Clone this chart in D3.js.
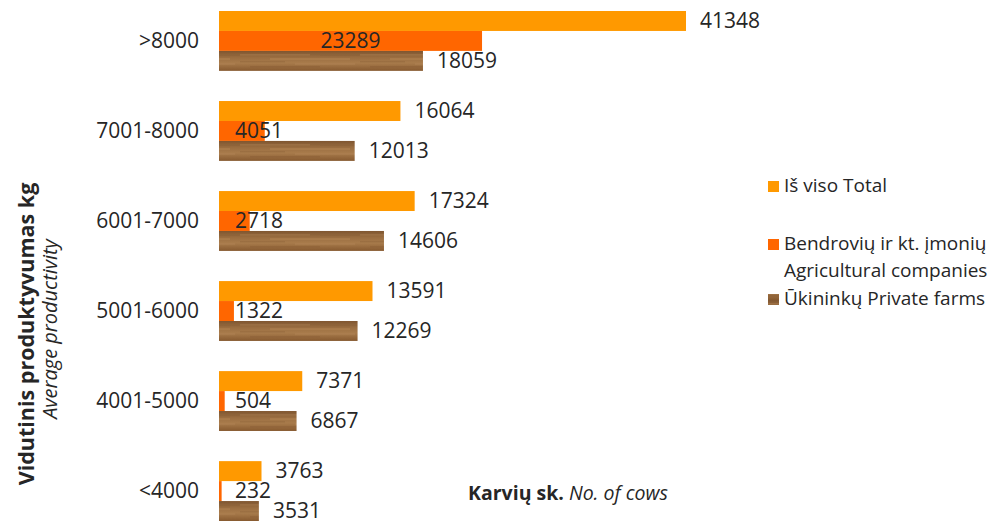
<!DOCTYPE html>
<html>
<head>
<meta charset="utf-8">
<script src="https://cdn.jsdelivr.net/npm/d3@7"></script>
<style>
  html, body { margin: 0; padding: 0; background: #fff; }
  svg { display: block; font-family: "Open Sans", "Noto Sans", sans-serif; }
</style>
</head>
<body>
<svg id="chart" width="998" height="527"></svg>
<script>
// ---- data ----
const categories = [">8000", "7001-8000", "6001-7000", "5001-6000", "4001-5000", "<4000"];
const seriesNames = ["Iš viso Total", "Bendrovių ir kt. įmonių Agricultural companies", "Ūkininkų Private farms"];
const totalValues = [41348, 16064, 17324, 13591, 7371, 3763];
const companyValues = [23289, 4051, 2718, 1322, 504, 232];
const farmValues = [18059, 12013, 14606, 12269, 6867, 3531];
const legendLines = [["Iš viso Total"], ["Bendrovių ir kt. įmonių", "Agricultural companies"], ["Ūkininkų Private farms"]];
const yTitle = "Vidutinis produktyvumas kg";
const ySubtitle = "Average productivity";
const xTitleBold = "Karvių sk.";
const xTitleItalic = "No. of cows";

const seriesValues = [totalValues, companyValues, farmValues];
const svg = d3.select("#chart");

// wood texture pattern for the farms series
const defs = svg.append("defs");
const grad = defs.append("linearGradient").attr("id", "woodGrad")
  .attr("x1", 0).attr("y1", 0).attr("x2", 0).attr("y2", 1);
[["0%", "#7f5630"], ["35%", "#9c6f42"], ["60%", "#a87b4b"], ["100%", "#86592f"]]
  .forEach(s => grad.append("stop").attr("offset", s[0]).attr("stop-color", s[1]));
const pat = defs.append("pattern").attr("id", "wood")
  .attr("patternUnits", "userSpaceOnUse").attr("width", 120).attr("height", 20);
pat.append("rect").attr("width", 120).attr("height", 20).attr("fill", "url(#woodGrad)");
const streaks = [
  [0, 3, 70, 1.5, "#b58758", 0.35], [30, 7, 80, 2, "#c0915e", 0.3], [0, 10, 45, 1.5, "#7c532d", 0.25],
  [55, 12, 60, 2, "#b88a59", 0.3], [10, 15, 70, 1.5, "#7a512c", 0.25], [80, 4, 40, 1, "#8a5e35", 0.3]
];
streaks.forEach(s => pat.append("rect").attr("x", s[0]).attr("y", s[1]).attr("width", s[2])
  .attr("height", s[3]).attr("fill", s[4]).attr("opacity", s[5]));

const colors = ["#ff9900", "#ff6600", "url(#wood)"];

const x = d3.scaleLinear().domain([0, 41348]).range([219, 686]);
const y = d3.scaleBand().domain(categories).range([11, 521]).paddingInner(0.335).paddingOuter(0);
const ySub = d3.scaleBand().domain(d3.range(3)).range([0, y.bandwidth()]).padding(0);

const labelColor = "#262626";
const numFont = 21;

const groups = svg.append("g").selectAll("g").data(categories).join("g")
  .attr("transform", c => `translate(0,${y(c)})`);

seriesValues.forEach((vals, si) => {
  groups.append("rect")
    .attr("x", x(0))
    .attr("y", ySub(si))
    .attr("width", (c, i) => x(vals[i]) - x(0))
    .attr("height", ySub.bandwidth())
    .attr("fill", colors[si]);
});

// value labels
seriesValues.forEach((vals, si) => {
  groups.append("text")
    .attr("class", "val s" + si)
    .attr("y", ySub(si) + ySub.bandwidth() / 2)
    .attr("dy", "0.35em")
    .attr("font-size", numFont)
    .attr("fill", labelColor)
    .text((c, i) => vals[i])
    .each(function (c, i) {
      const t = d3.select(this);
      if (si === 1) {
        const w = this.getComputedTextLength();
        const center = Math.max((x(0) + x(vals[i])) / 2, x(0) + 16 + w / 2);
        t.attr("x", center).attr("text-anchor", "middle");
      } else {
        t.attr("x", x(vals[i]) + 14).attr("text-anchor", "start");
      }
    });
});

// category labels
svg.append("g").selectAll("text").data(categories).join("text")
  .attr("x", 199)
  .attr("y", c => y(c) + y.bandwidth() / 2)
  .attr("dy", "0.35em")
  .attr("text-anchor", "end")
  .attr("font-size", numFont)
  .attr("fill", labelColor)
  .text(c => c);

// y titles
svg.append("text")
  .attr("transform", "translate(34,334) rotate(-90)")
  .attr("text-anchor", "middle")
  .attr("font-size", 21.5)
  .attr("font-weight", "bold")
  .attr("fill", labelColor)
  .text(yTitle);
svg.append("text")
  .attr("transform", "translate(57,329) rotate(-90)")
  .attr("text-anchor", "middle")
  .attr("font-size", 20)
  .attr("font-style", "italic")
  .attr("fill", labelColor)
  .text(ySubtitle);

// x title
const xt = svg.append("text")
  .attr("x", 468).attr("y", 500)
  .attr("font-size", 19.5)
  .attr("fill", labelColor);
xt.append("tspan").attr("font-weight", "bold").text(xTitleBold);
xt.append("tspan").attr("font-style", "italic").text(" " + xTitleItalic);

// legend
const legendBaselines = [[192], [250, 277], [305]];
const legendFills = ["#ff9900", "#ff6600", "url(#wood)"];
legendLines.forEach((lines, i) => {
  const b0 = legendBaselines[i][0];
  svg.append("rect").attr("x", 768).attr("y", b0 - 11).attr("width", 11).attr("height", 11)
    .attr("fill", legendFills[i]);
  lines.forEach((ln, j) => {
    svg.append("text").attr("x", 784).attr("y", legendBaselines[i][j])
      .attr("font-size", 19).attr("fill", labelColor).text(ln);
  });
});
</script>
</body>
</html>
